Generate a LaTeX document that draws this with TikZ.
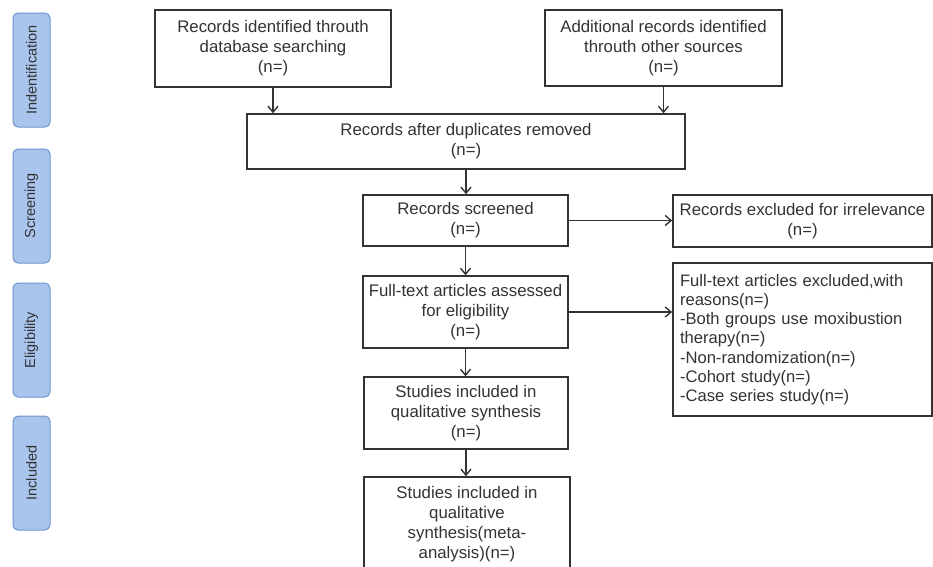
\documentclass[tikz,border=0pt]{standalone}
\usepackage{fontspec}
\setmainfont{Liberation Sans}
\usetikzlibrary{arrows.meta}
\definecolor{stagefill}{HTML}{A9C5EE}
\definecolor{stageline}{HTML}{6E95CF}
\definecolor{boxline}{HTML}{333333}
\definecolor{boxtext}{HTML}{333333}

\begin{document}
\begin{tikzpicture}[x=1pt, y=-1pt,
		box/.style={draw=boxline, line width=1.5pt, text=boxtext, align=center, inner sep=2pt,
			font=\fontsize{16.8}{20}\selectfont},
		stage/.style={draw=stageline, fill=stagefill, rounded corners=5pt, line width=1pt, rotate=90,
			minimum width=114pt, minimum height=37pt, text=boxtext, font=\fontsize{14.5}{16}\selectfont},
		flow/.style={draw=boxline, line width=1.4pt, -{Straight Barb[length=6pt, width=10pt]}}]
		\clip (0,0) rectangle (933,566);
		
		% stages on the left
		\node[stage] (ident) at (31.5, 70) {Indentification};
		\node[stage] (scr) at (31.5, 206) {Screening};
		\node[stage] (elig) at (31.5, 340) {Eligibility};
		\node[stage] (incl) at (31.5, 473) {Included};
		
		\node[box, minimum width=236pt, minimum height=77pt] (db) at (273, 48.5) {Records identified throuth\\database searching\\(n=)};
		\node[box, minimum width=237pt, minimum height=76pt] (other) at (663.5, 48) {Additional records identified\\throuth other sources\\(n=)};
		\node[box, minimum width=438pt, minimum height=55pt] (dup) at (466, 141.5) {Records after duplicates removed\\(n=)};
		\node[box, minimum width=205pt, minimum height=51pt] (screen) at (465.5, 220.5) {Records screened\\(n=)};
		\node[box, minimum width=259pt, minimum height=52pt] (excl) at (802.5, 221) {Records excluded for irrelevance\\(n=)};
		\node[box, minimum width=205pt, minimum height=72pt] (full) at (465.5, 312) {Full-text articles assessed\\for eligibility\\(n=)};
		\node[box, align=left, text width=245pt, inner xsep=7pt, minimum height=153pt, font=\fontsize{16.6}{19.2}\selectfont] (fullx) at (802.5, 339.5) {Full-text articles excluded,with\\reasons(n=)\\-Both groups use moxibustion\\therapy(n=)\\-Non-randomization(n=)\\-Cohort study(n=)\\-Case series study(n=)};
		\node[box, minimum width=204pt, minimum height=72pt] (qual) at (466, 413) {Studies included in\\qualitative synthesis\\(n=)};
		\node[box, minimum width=206pt, minimum height=95pt] (meta) at (467, 524.5) {Studies included in\\qualitative\\synthesis(meta-\\analysis)(n=)};
		
		\draw[flow] (db.south) -- (db.south |- dup.north);
		\draw[flow] (other.south) -- (other.south |- dup.north);
		\draw[flow] (dup.south) -- (dup.south |- screen.north);
		\draw[flow] (screen.south) -- (screen.south |- full.north);
		\draw[flow] (full.south) -- (full.south |- qual.north);
		\draw[flow] (qual.south) -- (qual.south |- meta.north);
		\draw[flow] (screen.east) -- (screen.east -| excl.west);
		\draw[flow] (full.east) -- (full.east -| fullx.west);
		
	\end{tikzpicture}
\end{document}
